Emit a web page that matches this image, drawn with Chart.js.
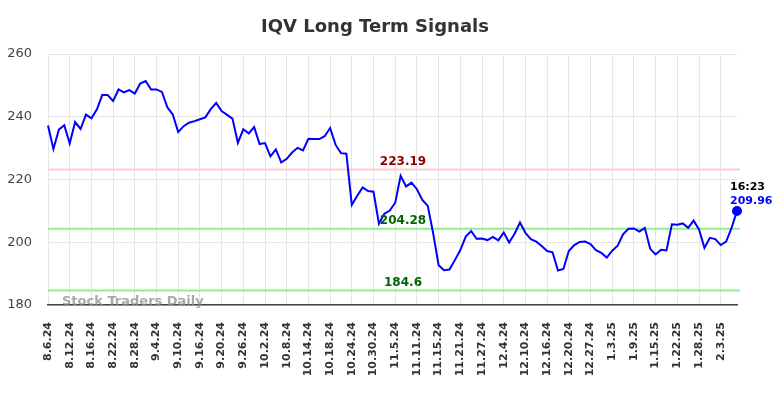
<!DOCTYPE html>
<html lang="en">
<head>
  <meta charset="UTF-8" />
  <title>IQV Long Term Signals</title>
  <script src="https://cdn.jsdelivr.net/npm/chart.js"></script>
  <style>
    body {
      margin: 0;
      padding: 0;
      background: white;
    }
    #wrap {
      width: 784px;
      height: 398px;
    }
  </style>
</head>
<body>
  <div id="wrap"><canvas id="signalChart" width="784" height="398"></canvas></div>

  <script>
    // trading days shown on the x axis
    const dates = [
      '8.6.24', '8.7.24', '8.8.24', '8.9.24', '8.12.24', '8.13.24', '8.14.24', '8.15.24',
      '8.16.24', '8.19.24', '8.20.24', '8.21.24', '8.22.24', '8.23.24', '8.26.24', '8.27.24',
      '8.28.24', '8.29.24', '8.30.24', '9.3.24', '9.4.24', '9.5.24', '9.6.24', '9.9.24',
      '9.10.24', '9.11.24', '9.12.24', '9.13.24', '9.16.24', '9.17.24', '9.18.24', '9.19.24',
      '9.20.24', '9.23.24', '9.24.24', '9.25.24', '9.26.24', '9.27.24', '9.30.24', '10.1.24',
      '10.2.24', '10.3.24', '10.4.24', '10.7.24', '10.8.24', '10.9.24', '10.10.24', '10.11.24',
      '10.14.24', '10.15.24', '10.16.24', '10.17.24', '10.18.24', '10.21.24', '10.22.24', '10.23.24',
      '10.24.24', '10.25.24', '10.28.24', '10.29.24', '10.30.24', '10.31.24', '11.1.24', '11.4.24',
      '11.5.24', '11.6.24', '11.7.24', '11.8.24', '11.11.24', '11.12.24', '11.13.24', '11.14.24',
      '11.15.24', '11.18.24', '11.19.24', '11.20.24', '11.21.24', '11.22.24', '11.25.24', '11.26.24',
      '11.27.24', '11.29.24', '12.2.24', '12.3.24', '12.4.24', '12.5.24', '12.6.24', '12.9.24',
      '12.10.24', '12.11.24', '12.12.24', '12.13.24', '12.16.24', '12.17.24', '12.18.24', '12.19.24',
      '12.20.24', '12.23.24', '12.24.24', '12.26.24', '12.27.24', '12.30.24', '12.31.24', '1.2.25',
      '1.3.25', '1.6.25', '1.7.25', '1.8.25', '1.9.25', '1.10.25', '1.13.25', '1.14.25',
      '1.15.25', '1.16.25', '1.17.25', '1.21.25', '1.22.25', '1.23.25', '1.24.25', '1.27.25',
      '1.28.25', '1.29.25', '1.30.25', '1.31.25', '2.3.25', '2.4.25', '2.5.25', '2.6.25'
    ];

    // closing prices
    const prices = [
      237.2, 229.7, 235.9, 237.3, 231.5, 238.3, 236.1, 240.7,
      239.5, 242.3, 246.9, 246.9, 245.0, 248.7, 247.8, 248.5,
      247.4, 250.6, 251.4, 248.7, 248.7, 247.9, 243.0, 240.7,
      235.1, 237.0, 238.1, 238.6, 239.2, 239.8, 242.4, 244.4,
      241.8, 240.6, 239.4, 231.7, 236.0, 234.7, 236.7, 231.3,
      231.6, 227.4, 229.6, 225.4, 226.6, 228.6, 230.1, 229.3,
      233.0, 232.9, 232.9, 233.8, 236.4, 231.1, 228.4, 228.2,
      211.9, 214.8, 217.5, 216.3, 216.1, 205.9, 209.1, 210.1,
      212.6, 221.2, 217.8, 219.0, 216.9, 213.5, 211.6, 202.8,
      192.7, 191.1, 191.3, 194.3, 197.5, 201.8, 203.6, 201.1,
      201.2, 200.7, 201.7, 200.6, 203.1, 199.9, 202.7, 206.3,
      203.0, 201.0, 200.2, 198.8, 197.2, 196.8, 191.0, 191.5,
      197.2, 199.1, 200.1, 200.2, 199.4, 197.5, 196.6, 195.1,
      197.3, 198.9, 202.5, 204.3, 204.4, 203.4, 204.6, 197.9,
      196.1, 197.6, 197.4, 205.7, 205.6, 206.0, 204.6, 206.9,
      204.1, 198.2, 201.4, 201.0, 199.1, 200.2, 204.6, 209.96
    ];

    const yTicks = [180, 200, 220, 240, 260];
    const resistance = 223.19;
    const supports = [204.28, 184.6];
    const lastTime = '16:23';
    const labelEvery = 4;

    const overlay = {
      id: 'overlay',
      beforeDatasetsDraw(chart) {
        const { ctx, chartArea, scales } = chart;
        ctx.save();
        ctx.lineWidth = 2;
        const level = (v, color) => {
          const y = scales.y.getPixelForValue(v);
          ctx.strokeStyle = color;
          ctx.beginPath();
          ctx.moveTo(chartArea.left, y);
          ctx.lineTo(chartArea.right + 3, y);
          ctx.stroke();
        };
        level(resistance, '#ffcccc');
        supports.forEach(v => level(v, '#90ee90'));

        ctx.font = 'bold 13px "DejaVu Sans"';
        ctx.fillStyle = 'rgba(140,140,140,0.75)';
        ctx.textBaseline = 'middle';
        ctx.fillText('Stock Traders Daily', 62, 302);
        ctx.restore();
      },
      afterDatasetsDraw(chart) {
        const { ctx, scales } = chart;
        ctx.save();
        ctx.textAlign = 'center';
        ctx.textBaseline = 'middle';
        ctx.font = 'bold 18px "DejaVu Sans"';
        ctx.fillStyle = '#333';
        ctx.fillText('IQV Long Term Signals', 375, 27);

        ctx.font = 'bold 12px "DejaVu Sans"';
        ctx.fillStyle = '#8b0000';
        ctx.fillText(resistance.toFixed(2), 403, scales.y.getPixelForValue(resistance) - 8);
        ctx.fillStyle = '#006400';
        supports.forEach(v => {
          ctx.fillText(String(v), 403, scales.y.getPixelForValue(v) - 8);
        });

        const last = prices.length - 1;
        const px = scales.x.getPixelForValue(last);
        const py = scales.y.getPixelForValue(prices[last]);
        ctx.textAlign = 'left';
        ctx.font = 'bold 11px "DejaVu Sans"';
        ctx.fillStyle = '#000';
        ctx.fillText(lastTime, px - 7, py - 24);
        ctx.fillStyle = '#0000ff';
        ctx.fillText(prices[last].toFixed(2), px - 7, py - 10);
        ctx.restore();
      }
    };

    new Chart(document.getElementById('signalChart'), {
      type: 'line',
      data: {
        labels: dates,
        datasets: [{
          data: prices,
          borderColor: '#0000ff',
          backgroundColor: '#0000ff',
          borderWidth: 2,
          tension: 0,
          pointRadius: ctx => ctx.dataIndex === prices.length - 1 ? 4 : 0,
          pointHoverRadius: 0
        }]
      },
      options: {
        responsive: false,
        animation: false,
        layout: { padding: { top: 54, right: 47, left: 0, bottom: 0 } },
        plugins: {
          legend: { display: false },
          tooltip: { enabled: false }
        },
        scales: {
          x: {
            afterFit: s => { s.height = 93; },
            grid: {
              drawTicks: false,
              color: ctx => (ctx.index % labelEvery === 0 ? '#e6e6e6' : 'rgba(0,0,0,0)')
            },
            border: { color: '#444', width: 1.5 },
            ticks: {
              autoSkip: false,
              maxRotation: 90,
              minRotation: 90,
              padding: 17,
              color: '#333',
              font: { family: '"DejaVu Sans"', size: 11, weight: 'bold' },
              callback: (v, i) => (i % labelEvery === 0 ? dates[i] : '')
            }
          },
          y: {
            min: yTicks[0],
            max: yTicks[yTicks.length - 1],
            afterFit: s => { s.width = 48; },
            afterBuildTicks: s => { s.ticks = yTicks.map(v => ({ value: v })); },
            grid: { drawTicks: false, color: '#e6e6e6' },
            border: { display: false },
            ticks: {
              padding: 16,
              color: '#444',
              font: { family: '"DejaVu Sans"', size: 13 }
            }
          }
        }
      },
      plugins: [overlay]
    });
  </script>
</body>
</html>
